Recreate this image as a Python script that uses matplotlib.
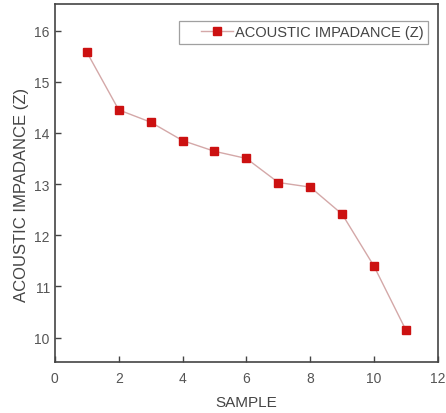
import matplotlib
matplotlib.use("Agg")
import matplotlib.pyplot as plt
from matplotlib.lines import Line2D
from matplotlib.legend_handler import HandlerLine2D

samples = [1, 2, 3, 4, 5, 6, 7, 8, 9, 10, 11]
impedance = [15.58, 14.45, 14.21, 13.85, 13.64, 13.50, 13.03, 12.94, 12.41, 11.39, 10.14]
xticks = [0, 2, 4, 6, 8, 10, 12]
yticks = [10, 11, 12, 13, 14, 15, 16]

plt.rcParams['font.family'] = ['Liberation Sans', 'DejaVu Sans']
fig = plt.figure(figsize=(4.46, 4.14), dpi=100)
ax = fig.add_axes([0.123, 0.123, 0.859, 0.865])

ax.plot(samples, impedance, color='#d4a8a8', lw=1.0, marker='s', markersize=6,
        markerfacecolor='#cc1111', markeredgecolor='#cc1111', label='ACOUSTIC IMPADANCE (Z)')

ax.set_xlim(0, 12)
ax.set_ylim(9.52, 16.52)
ax.set_xticks(xticks)
ax.set_yticks(yticks)
ax.tick_params(direction='in', length=4, width=1, colors='#444444', labelsize=10,
               labelcolor='#555555')
ax.tick_params(axis='x', pad=6.5)
ax.tick_params(axis='y', pad=3.6)
for s in ax.spines.values():
    s.set_color('#444444')
    s.set_linewidth(1.2)
ax.set_xlabel('SAMPLE', fontsize=11, color='#444444', labelpad=7)
ax.set_ylabel('ACOUSTIC IMPADANCE (Z)', fontsize=12, color='#444444')
ax.yaxis.set_label_coords(-0.068, 0.469)

leg = ax.legend(loc='upper right', bbox_to_anchor=(0.974, 0.9525), fontsize=10.5, frameon=True,
                fancybox=False, edgecolor='#888888', handlelength=3.4, borderpad=0.3,
                handletextpad=0.15, borderaxespad=0,
                handler_map={Line2D: HandlerLine2D(xpad=1.2)})
leg.get_frame().set_linewidth(0.9)
for t in leg.get_texts():
    t.set_color('#444444')

fig.savefig('out.png', dpi=100)
